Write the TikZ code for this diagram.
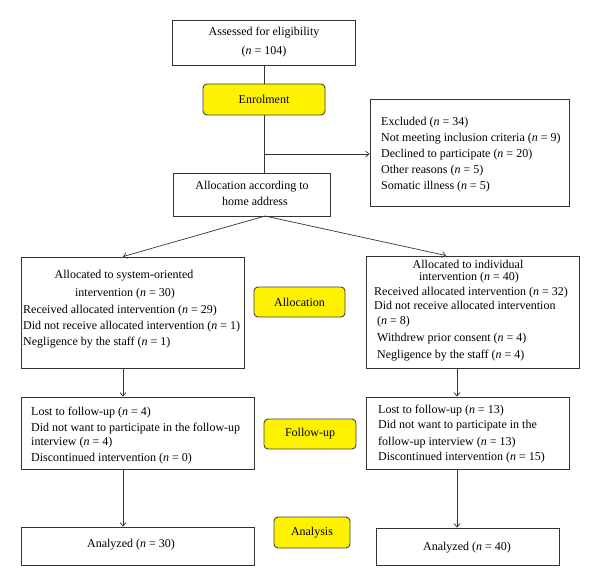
\documentclass[tikz,border=0pt]{standalone}
\usepackage{fontspec}
\setmainfont{Liberation Serif}
\usetikzlibrary{arrows.meta}
\begin{document}
\begin{tikzpicture}[x=1pt,y=-1pt,
  box/.style={draw=black!80, line width=0.9pt, inner sep=0pt, fill=white},
  stage/.style={draw=black!75, line width=0.9pt, fill=yellow, rounded corners=4pt, inner sep=0pt, font=\fontsize{12}{14}\selectfont},
  txt/.style={inner sep=0pt, anchor=west, text height=8pt, text depth=2.5pt, font=\fontsize{12}{14}\selectfont},
  ctxt/.style={txt, anchor=center},
  conn/.style={draw=black!80, line width=0.7pt},
  arr/.style={conn, -{Straight Barb[length=3.5pt,width=6pt]}}]
\useasboundingbox (0,0) rectangle (600,586);
% boxes
\node[box, minimum width=183pt, minimum height=45pt] (assess) at (264,42.5) {};
\node[stage, minimum width=122pt, minimum height=31pt] (enrol) at (264,99.5) {Enrolment};
\node[box, minimum width=199pt, minimum height=107pt] (excl) at (469.5,152.5) {};
\node[box, minimum width=157pt, minimum height=43pt] (alloc) at (251.5,194.5) {};
\node[box, minimum width=223pt, minimum height=111pt] (sys) at (132.5,312.5) {};
\node[box, minimum width=213pt, minimum height=112pt] (ind) at (472.5,312) {};
\node[stage, minimum width=91pt, minimum height=30pt] (allocLab) at (299.5,302) {Allocation};
\node[box, minimum width=233pt, minimum height=72pt] (fuL) at (137.5,433) {};
\node[box, minimum width=203pt, minimum height=72pt] (fuR) at (467.5,433) {};
\node[stage, minimum width=92pt, minimum height=30pt] (fuLab) at (310,434) {Follow-up};
\node[box, minimum width=233pt, minimum height=38pt] (anL) at (137.5,546) {};
\node[box, minimum width=183pt, minimum height=37pt] (anR) at (467.5,546.5) {};
\node[stage, minimum width=76pt, minimum height=31pt] (anLab) at (312,532.5) {Analysis};
% texts
\node[ctxt] (t1) at (264,33) {Assessed for eligibility};
\node[ctxt] (t2) at (264,52) {(\textit{n} = 104)};
\node[txt] (e1) at (381,123) {Excluded (\textit{n} = 34)};
\node[txt] (e2) at (381,139) {Not meeting inclusion criteria (\textit{n} = 9)};
\node[txt] (e3) at (381,155) {Declined to participate (\textit{n} = 20)};
\node[txt] (e4) at (381,171) {Other reasons (\textit{n} = 5)};
\node[txt] (e5) at (381,187) {Somatic illness (\textit{n} = 5)};
\node[ctxt] (a1) at (252,187) {Allocation according to};
\node[ctxt] (a2) at (255,203) {home address};
\node[ctxt] (s1) at (124,276) {Allocated to system-oriented};
\node[ctxt] (s2) at (125,294) {intervention (\textit{n} = 30)};
\node[txt] (s3) at (23,311) {Received allocated intervention (\textit{n} = 29)};
\node[txt] (s4) at (23,327) {Did not receive allocated intervention (\textit{n} = 1)};
\node[txt] (s5) at (23,343) {Negligence by the staff (\textit{n} = 1)};
\node[ctxt] (i1) at (468,266) {Allocated to individual};
\node[ctxt] (i2) at (469,278) {intervention (\textit{n} = 40)};
\node[txt] (i3) at (374,293) {Received allocated intervention (\textit{n} = 32)};
\node[txt] (i4) at (374,307) {Did not receive allocated intervention};
\node[txt] (i5) at (377,322) {(\textit{n} = 8)};
\node[txt] (i6) at (377,339) {Withdrew prior consent (\textit{n} = 4)};
\node[txt] (i7) at (377,356) {Negligence by the staff (\textit{n} = 4)};
\node[txt] (f1) at (31,413) {Lost to follow-up (\textit{n} = 4)};
\node[txt] (f2) at (31,429) {Did not want to participate in the follow-up};
\node[txt] (f3) at (31,443) {interview (\textit{n} = 4)};
\node[txt] (f4) at (31,459) {Discontinued intervention (\textit{n} = 0)};
\node[txt] (g1) at (378,411) {Lost to follow-up (\textit{n} = 13)};
\node[txt] (g2) at (378,426) {Did not want to participate in the};
\node[txt] (g3) at (378,443) {follow-up interview (\textit{n} = 13)};
\node[txt] (g4) at (378,458) {Discontinued intervention (\textit{n} = 15)};
\node[ctxt] (z1) at (131,545) {Analyzed (\textit{n} = 30)};
\node[ctxt] (z2) at (467,548) {Analyzed (\textit{n} = 40)};
% coordinates
\coordinate (br) at (264,154);
\coordinate (split) at (265,216);
\coordinate (colL) at (123,0);
\coordinate (colR) at (457,0);
\coordinate (tipR) at (446,0);
% connectors
\draw[conn] (assess.south) -- (enrol.north);
\draw[conn] (enrol.south) -- (enrol.south |- alloc.north);
\draw[arr] (br) -- (excl.west |- br);
\draw[arr] (split) -- (sys.north -| colL);
\draw[arr] (split) -- (ind.north -| tipR);
\draw[arr] (sys.south -| colL) -- (fuL.north -| colL);
\draw[arr] (ind.south -| colR) -- (fuR.north -| colR);
\draw[arr] (fuL.south -| colL) -- (anL.north -| colL);
\draw[arr] (fuR.south -| colR) -- (anR.north -| colR);
\end{tikzpicture}
\end{document}
